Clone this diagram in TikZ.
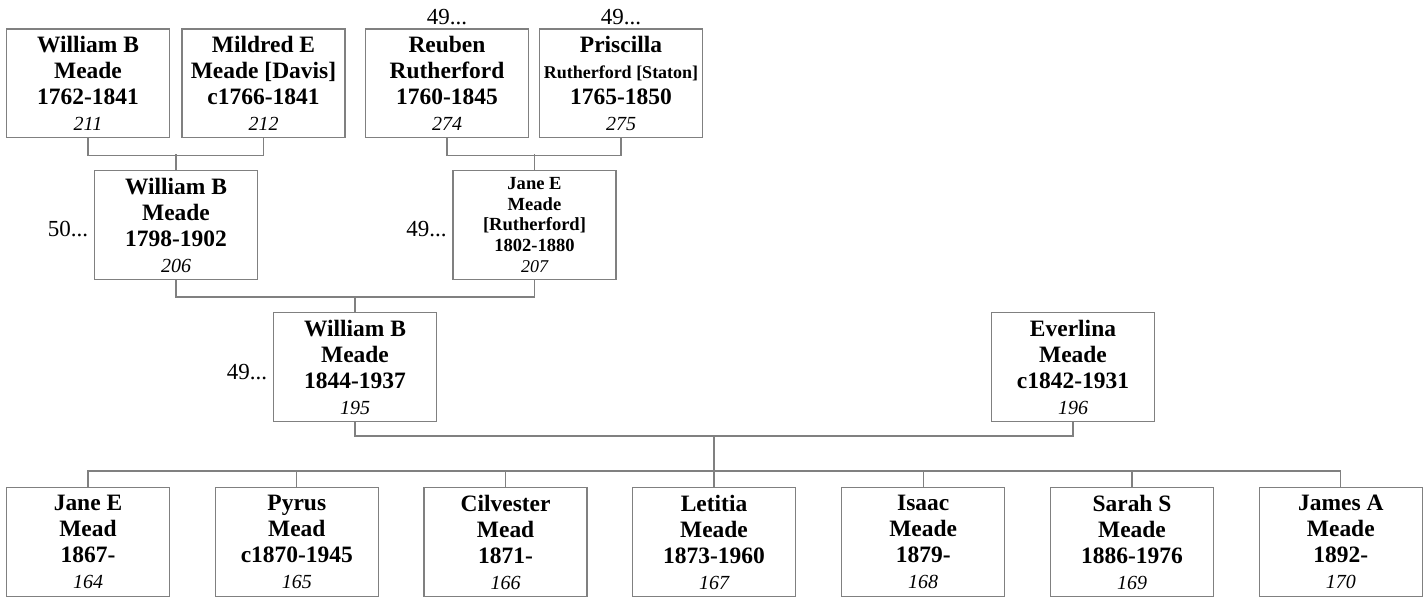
\documentclass[tikz,border=0pt]{standalone}
\usepackage{fontspec}
\setmainfont{Liberation Serif}
\definecolor{linegray}{RGB}{128,128,128}
\newcommand\nmfont{\fontsize{17.6pt}{19.5pt}\selectfont\bfseries}
\newcommand\nmsmall{\fontsize{13.9pt}{15.4pt}\selectfont\bfseries}
\newcommand\pnum[1]{{\fontsize{15pt}{18.5pt}\selectfont\mdseries\itshape #1}}
\newcommand\pnumsmall[1]{{\fontsize{13.5pt}{15.4pt}\selectfont\mdseries\itshape #1}}
\newcommand\lblfont{\fontsize{17.25pt}{20pt}\selectfont}
\tikzset{
  person/.style={draw=linegray, line width=1pt, rectangle, minimum width=122.25pt,
    minimum height=81.5pt, inner sep=0pt, align=center, font=\nmfont},
  conn/.style={draw=linegray, line width=1pt},
  lbl/.style={inner sep=0pt, font=\lblfont}
}
\begin{document}
\begin{tikzpicture}[x=0.75pt,y=-0.75pt]
\useasboundingbox (0,0) rectangle (1423,598);
% row 1
\node[person] (p211) at (88,83.5) {William B\\Meade\\1762-1841\\\pnum{211}};
\node[person] (p212) at (263.5,83.5) {Mildred E\\Meade [Davis]\\c1766-1841\\\pnum{212}};
\node[person] (p274) at (447,83.5) {Reuben\\Rutherford\\1760-1845\\\pnum{274}};
\node[person] (p275) at (621,83.5) {Priscilla\\{\fontsize{13.5pt}{15pt}\selectfont Rutherford [Staton]}\\1765-1850\\\pnum{275}};
% row 2
\node[person] (p206) at (176,225) {William B\\Meade\\1798-1902\\\pnum{206}};
\node[person, font=\nmsmall] (p207) at (534.5,225) {Jane E\\Meade\\{[Rutherford]}\\1802-1880\\\pnumsmall{207}};
% row 3
\node[person] (p195) at (355,367) {William B\\Meade\\1844-1937\\\pnum{195}};
\node[person] (p196) at (1073,367) {Everlina\\Meade\\c1842-1931\\\pnum{196}};
% row 4
\node[person] (c1) at (88,542) {Jane E\\Mead\\1867-\\\pnum{164}};
\node[person] (c2) at (296.8,542) {Pyrus\\Mead\\c1870-1945\\\pnum{165}};
\node[person] (c3) at (505.6,542) {Cilvester\\Mead\\1871-\\\pnum{166}};
\node[person] (c4) at (714,542) {Letitia\\Meade\\1873-1960\\\pnum{167}};
\node[person] (c5) at (923.2,542) {Isaac\\Meade\\1879-\\\pnum{168}};
\node[person] (c6) at (1132,542) {Sarah S\\Meade\\1886-1976\\\pnum{169}};
\node[person] (c7) at (1340.8,542) {James A\\Meade\\1892-\\\pnum{170}};
% labels
\node[lbl, anchor=base] (l274) at ([yshift=3pt]p274.north) {49...};
\node[lbl, anchor=base] (l275) at ([yshift=3pt]p275.north) {49...};
\node[lbl, anchor=base east] (l206) at ([xshift=-4pt,yshift=-9pt]p206.west) {50...};
\node[lbl, anchor=base east] (l207) at ([xshift=-4pt,yshift=-9pt]p207.west) {49...};
\node[lbl, anchor=base east] (l195) at ([xshift=-4pt,yshift=-9.5pt]p195.west) {49...};
% connectors
\draw[conn] (p211.south) -- ++(0,17) -| (p212.south);
\draw[conn] (p206.north) -- ++(0,-16);
\draw[conn] (p274.south) -- ++(0,17) -| (p275.south);
\draw[conn] (p207.north) -- ++(0,-16);
\draw[conn] (p206.south) -- ++(0,17) -| (p207.south);
\draw[conn] (p195.north) -- ++(0,-16);
\draw[conn] (p195.south) -- ++(0,14) -| (p196.south);
\draw[conn] (c1.north) -- ++(0,-16) -| (c7.north);
\foreach \c in {c2,c3,c5,c6} { \draw[conn] (\c.north) -- ++(0,-16); }
\draw[conn] (c4.north) -- ++(0,-52);
\end{tikzpicture}
\end{document}
